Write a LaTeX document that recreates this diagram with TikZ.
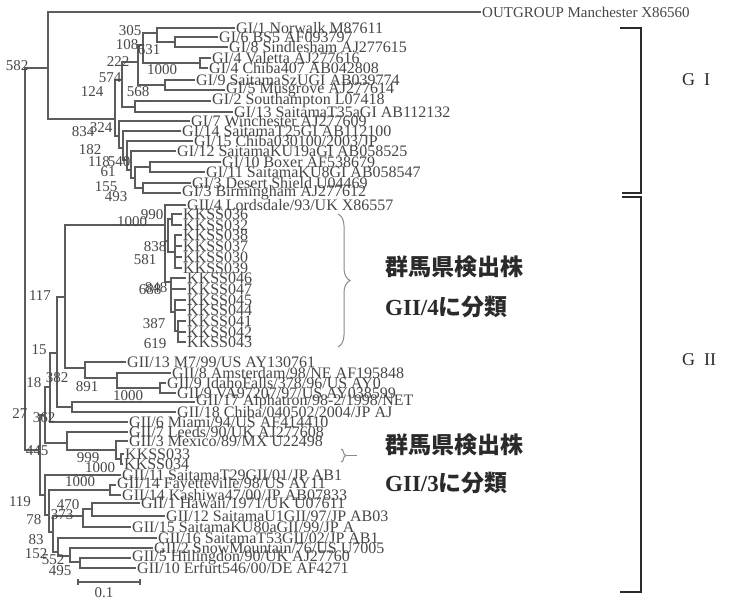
\documentclass[tikz,border=0pt]{standalone}
\usepackage{fontspec}
\setmainfont{Liberation Serif}
\newfontfamily\jp{Noto Sans CJK JP}
\usetikzlibrary{decorations.pathreplacing}
\definecolor{linegray}{HTML}{5C5C5C}
\definecolor{txtgray}{HTML}{474747}
\definecolor{dark}{HTML}{2A2A2A}
\definecolor{bracegray}{HTML}{8A8A8A}
\begin{document}
\begin{tikzpicture}[x=1pt,y=-1pt,
  br/.style={draw=linegray, line width=1.2pt},
  leaf/.style={anchor=west, inner sep=1pt, text=txtgray, font=\fontsize{16}{16}\selectfont},
  bs/.style={inner sep=0pt, text=txtgray, font=\fontsize{15}{15}\selectfont},
  jtxt/.style={anchor=west, inner sep=0pt, text=dark, font=\jp\bfseries\fontsize{23}{23}\selectfont},
  grp/.style={anchor=west, inner sep=0pt, text=dark, font=\fontsize{18}{18}\selectfont},
  bracket/.style={draw=dark, line width=2.8pt},
  curly/.style={draw=bracegray, line width=1pt, decorate}
  ]
\fill[white] (0,0) rectangle (734,601);
\useasboundingbox (0,0) rectangle (734,601);

% ---------- internal nodes ----------
\coordinate (root) at (25,260);
\coordinate (c0) at (48,68);
\coordinate (R1) at (115,119);
\coordinate (a8) at (122,80);
\coordinate (a6) at (138,62);
\coordinate (a4) at (143,45);
\coordinate (a2) at (157,33);
\coordinate (a1) at (175,42);
\coordinate (a3) at (200,63);
\coordinate (a5) at (165,85);
\coordinate (a7) at (135,107);
\coordinate (b1) at (119,136);
\coordinate (b2) at (123,148);
\coordinate (b3) at (127,160);
\coordinate (b4) at (131,170);
\coordinate (b5) at (135,178);
\coordinate (b6) at (150,167);
\coordinate (b7) at (143,188);

\coordinate (gr) at (40,450);
\coordinate (k27) at (45,415);
\coordinate (k18) at (50,387);
\coordinate (k15) at (57,353);
\coordinate (k117) at (65,297);
\coordinate (k1) at (165,225);
\coordinate (kA) at (168,241);
\coordinate (kA1) at (172,219);
\coordinate (kA2) at (175,252);
\coordinate (kB) at (171,282);
\coordinate (kB2) at (175,312);
\coordinate (kB3) at (178,331);
\coordinate (k13) at (85,368);
\coordinate (k8) at (117,378);
\coordinate (k9) at (160,388);
\coordinate (k17) at (72,407);
\coordinate (kL) at (67,443);
\coordinate (kM) at (116,450);
\coordinate (kK) at (121,459);
\coordinate (m1) at (45,495);
\coordinate (m2) at (49,515);
\coordinate (m3) at (110,490);
\coordinate (m4) at (53,532);
\coordinate (m5) at (83,516);
\coordinate (m6) at (92,509);
\coordinate (m7) at (58,552);
\coordinate (m8) at (70,556);
\coordinate (m9) at (80,562);

% ---------- leaves ----------
\node[leaf, font=\fontsize{15}{15}\selectfont] (Lout) at (481,12) {OUTGROUP Manchester X86560};
\node[leaf] (L1) at (235,28) {GI/1 Norwalk M87611};
\node[leaf] (L2) at (218,37) {GI/6 BS5 AF093797};
\node[leaf] (L3) at (228,47) {GI/8 Sindlesham AJ277615};
\node[leaf] (L4) at (211,58) {GI/4 Valetta AJ277616};
\node[leaf] (L5) at (208,68) {GI/4 Chiba407 AB042808};
\node[leaf] (L6) at (195,80) {GI/9 SaitamaSzUGI AB039774};
\node[leaf] (L7) at (225,90) {GI/5 Musgrove AJ277614};
\node[leaf] (L8) at (211,101) {GI/2 Southampton L07418};
\node[leaf] (L9) at (233,112) {GI/13 SaitamaT35aGI AB112132};
\node[leaf] (L10) at (190,121) {GI/7 Winchester AJ277609};
\node[leaf] (L11) at (181,131) {GI/14 SaitamaT25GI AB112100};
\node[leaf] (L12) at (193,141) {GI/15 Chiba030100/2003/JP};
\node[leaf] (L13) at (176,151) {GI/12 SaitamaKU19aGI AB058525};
\node[leaf] (L14) at (221,162) {GI/10 Boxer AF538679};
\node[leaf] (L15) at (205,172) {GI/11 SaitamaKU8GI AB058547};
\node[leaf] (L16) at (191,183) {GI/3 Desert Shield U04469};
\node[leaf] (L17) at (181,193) {GI/3 Birmingham AJ277612};

\node[leaf] (G4) at (186,205) {GII/4 Lordsdale/93/UK X86557};
\node[leaf] (K1) at (182,214) {KKSS036};
\node[leaf] (K2) at (182,225) {KKSS032};
\node[leaf] (K3) at (182,235) {KKSS038};
\node[leaf] (K4) at (182,246) {KKSS037};
\node[leaf] (K5) at (182,257) {KKSS030};
\node[leaf] (K6) at (182,268) {KKSS039};
\node[leaf] (K7) at (186,278) {KKSS046};
\node[leaf] (K8) at (186,289) {KKSS047};
\node[leaf] (K9) at (186,300) {KKSS045};
\node[leaf] (K10) at (186,310) {KKSS044};
\node[leaf] (K11) at (186,321) {KKSS041};
\node[leaf] (K12) at (186,332) {KKSS042};
\node[leaf] (K13) at (186,342) {KKSS043};

\node[leaf] (G13) at (126,362) {GII/13 M7/99/US AY130761};
\node[leaf] (G8) at (171,373) {GII/8 Amsterdam/98/NE AF195848};
\node[leaf] (G9a) at (166,383) {GII/9 IdahoFalls/378/96/US AY0};
\node[leaf] (G9b) at (176,393) {GII/9 VA97207/97/US AY038599};
\node[leaf] (G17) at (195,402) {GII/17 Alphatron/98-2/1998/NET};
\node[leaf] (G18) at (176,412) {GII/18 Chiba/040502/2004/JP AJ};
\node[leaf] (G6) at (128,422) {GII/6 Miami/94/US AF414410};
\node[leaf] (G7) at (128,432) {GII/7 Leeds/90/UK AJ277608};
\node[leaf] (G3) at (128,441) {GII/3 Mexico/89/MX U22498};
\node[leaf] (K33) at (124,454) {KKSS033};
\node[leaf] (K34) at (123,464) {KKSS034};
\node[leaf] (G11) at (121,475) {GII/11 SaitamaT29GII/01/JP AB1};
\node[leaf] (G14a) at (116,485) {GII/14 Fayetteville/98/US AY11};
\node[leaf] (G14b) at (121,495) {GII/14 Kashiwa47/00/JP AB07833};
\node[leaf] (G1) at (140,503) {GII/1 Hawaii/1971/UK U07611};
\node[leaf] (G12) at (165,516) {GII/12 SaitamaU1GII/97/JP AB03};
\node[leaf] (G15) at (131,527) {GII/15 SaitamaKU80aGII/99/JP A};
\node[leaf] (G16) at (157,538) {GII/16 SaitamaT53GII/02/JP AB1};
\node[leaf] (G2) at (153,548) {GII/2 SnowMountain/76/US U7005};
\node[leaf] (G5) at (131,558) {GII/5 Hillingdon/90/UK AJ27760};
\node[leaf] (G10) at (136,568) {GII/10 Erfurt546/00/DE AF4271};

% ---------- branches ----------
\foreach \p/\c in {root/c0, root/gr, c0/Lout, c0/R1,
  R1/a8, R1/b1, a8/a6, a8/a7, a6/a4, a6/a5, a4/a2, a4/a3,
  a2/L1, a2/a1, a1/L2, a1/L3, a3/L4, a3/L5, a5/L6, a5/L7, a7/L8, a7/L9,
  b1/L10, b1/b2, b2/L11, b2/b3, b3/L12, b3/b4, b4/L13, b4/b5,
  b5/b6, b5/b7, b6/L14, b6/L15, b7/L16, b7/L17,
  gr/k27, gr/m1, k27/k18, k27/kL, k18/k15, k18/G6, k15/k117, k15/k17,
  k117/k1, k117/k13, k1/G4, k1/kA, k1/kB,
  kA/kA1, kA/kA2, kA1/K1, kA1/K2, kA2/K3, kA2/K4, kA2/K5, kA2/K6,
  kB/K7, kB/K8, kB/kB2, kB2/K9, kB2/K10, kB2/kB3, kB3/K11, kB3/K12, kB3/K13,
  k13/G13, k13/k8, k8/G8, k8/k9, k9/G9a, k9/G9b, k17/G17, k17/G18,
  kL/G7, kL/kM, kM/G3, kM/kK, kK/K33, kK/K34,
  m1/G11, m1/m2, m2/m3, m2/m4, m3/G14a, m3/G14b, m4/m5, m4/m7,
  m5/m6, m5/G15, m6/G1, m6/G12, m7/G16, m7/m8, m8/G2, m8/m9, m9/G5, m9/G10}
  \draw[br] (\p) |- (\c);

% ---------- bootstrap values ----------
\foreach \v/\x/\y in {582/17/66, 305/130/31, 108/127/45, 631/149/50, 222/118/62,
  1000/162/70, 574/110/78, 124/92/92, 568/138/92, 834/83/132, 324/101/128,
  182/90/150, 118/99/162, 540/119/162, 61/108/172, 155/106/187, 493/116/197,
  990/152/215, 1000/132/222, 838/155/247, 581/145/260, 688/150/290, 848/156/288,
  387/154/324, 619/155/344, 117/40/296, 15/39/350, 18/34/383, 382/57/378,
  891/87/387, 1000/128/396, 27/20/414, 362/44/418, 445/37/451, 999/88/458,
  1000/100/468, 119/20/502, 1000/80/482, 470/68/505, 373/62/515, 78/34/520,
  83/36/540, 152/36/554, 552/53/560, 495/60/571}
  \node[bs] at (\x,\y) {\v};

% ---------- scale bar ----------
\coordinate (s1) at (78,582);
\coordinate (s2) at (140,582);
\draw[br] (s1) -- (s2);
\draw[br] ([yshift=3pt]s1) -- ([yshift=-3pt]s1);
\draw[br] ([yshift=3pt]s2) -- ([yshift=-3pt]s2);
\node[bs] (scl) at (104,593) {0.1};

% ---------- braces and annotations ----------
\draw[curly, decoration={brace, amplitude=12pt}] (338,214) -- (338,347);
\draw[curly, decoration={brace, amplitude=5pt}] (341,449) -- (341,462);
\draw[draw=bracegray, line width=1pt] (347,455.5) -- (357,455.5);

\node[jtxt] (j1) at (385,267) {群馬県検出株};
\node[jtxt] (j2) at (385,307) {{\rmfamily\bfseries GII/4}に分類};
\node[jtxt] (j3) at (385,445) {群馬県検出株};
\node[jtxt] (j4) at (385,483) {{\rmfamily\bfseries GII/3}に分類};

% ---------- group brackets ----------
\draw[bracket] (620,28) -- (641,28) -- (641,193) -- (622,193);
\draw[bracket] (622,197) -- (641,197) -- (641,592) -- (620,592);
\node[grp] (gI) at (682,80) {G\hspace{9pt}I};
\node[grp] (gII) at (682,360) {G\hspace{9pt}II};
\end{tikzpicture}
\end{document}
